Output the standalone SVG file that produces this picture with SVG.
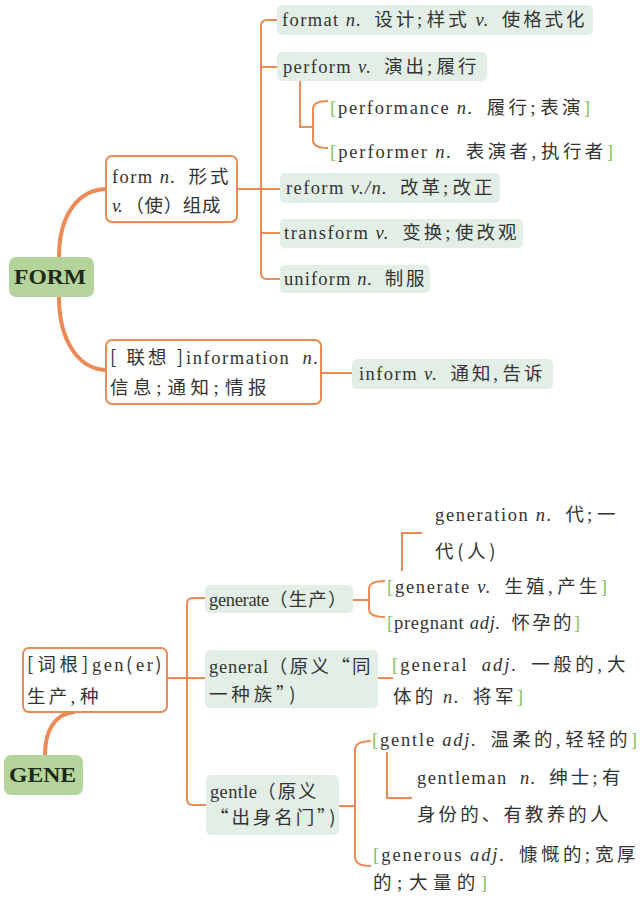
<svg xmlns="http://www.w3.org/2000/svg" width="640" height="903" viewBox="0 0 640 903">
<defs>
<style>
text{font-family:"Liberation Serif","Noto Sans CJK SC",serif;font-size:18.5px;fill:#333;}
.c{font-family:"Noto Sans CJK SC","Liberation Serif",sans-serif;font-size:18.5px;letter-spacing:1.5px;}
.p{font-family:"Liberation Serif",serif;font-size:19px;letter-spacing:3px;}
.i{font-style:italic;}
.b{fill:#86bf66;font-size:19px;}
.root{font-size:21px;font-weight:bold;fill:#1c2a17;}
.gbox{fill:#e3efe6;}
.wbox{fill:#fff;stroke:#ec8a55;stroke-width:2;}
.rbox{fill:#b4d49b;}
.ln{fill:none;stroke:#ec8a55;stroke-width:2;}
.thick{fill:none;stroke:#ec8a55;stroke-width:4;stroke-linecap:round;}
</style>
</defs>
<rect width="640" height="903" fill="#fff"/>

<g id="connectors">
<path class="ln" d="M277,20 H267 Q261,20 261,26 V273 Q261,279 267,279 H282"/>
<path class="ln" d="M261,67 H279"/>
<path class="ln" d="M237,189 H281"/>
<path class="ln" d="M261,233 H281"/>
<path class="ln" d="M300,81 V127 H313"/>
<path class="ln" d="M328,101 Q313,101 313,109 V140 Q313,148 328,148"/>
<path class="ln" d="M321,373 H352"/>
<path class="thick" d="M59,257 C59,215 78,190 106,189"/>
<path class="thick" d="M59,297 C59,340 78,369 106,370"/>
<path class="ln" d="M205,598 H193 Q187,598 187,604 V799 Q187,805 193,805 H206"/>
<path class="ln" d="M167,678 H205"/>
<path class="ln" d="M353,600 H369"/>
<path class="ln" d="M385,581 Q369,581 369,589 V609 Q369,617 385,617"/>
<path class="ln" d="M402,571 V533 H422"/>
<path class="ln" d="M377,678 H393"/>
<path class="ln" d="M339,806 H355"/>
<path class="ln" d="M371,741 Q355,741 355,750 V857 Q355,866 371,866"/>
<path class="ln" d="M387,752 V798 H412"/>
<path class="thick" d="M45,755 C45,730 55,714 74,712"/>
</g>

<g id="format">
<rect class="gbox" x="277" y="5" width="316" height="30" rx="5"/>
<text x="282" y="26" textLength="304" lengthAdjust="spacing">format <tspan class="i">n.</tspan>&#160; <tspan class="c">设计<tspan class="p">;</tspan>样式</tspan> <tspan class="i">v.</tspan>&#160; <tspan class="c">使格式化</tspan></text>
</g>
<g id="perform">
<rect class="gbox" x="277" y="52" width="210" height="29" rx="5"/>
<text x="283" y="73" textLength="195" lengthAdjust="spacing">perform <tspan class="i">v.</tspan>&#160; <tspan class="c">演出<tspan class="p">;</tspan>履行</tspan></text>
</g>
<g id="performance">
<text x="330" y="114" textLength="260" lengthAdjust="spacing"><tspan class="b">[</tspan>performance <tspan class="i">n.</tspan>&#160; <tspan class="c">履行<tspan class="p">;</tspan>表演</tspan><tspan class="b">]</tspan></text>
</g>
<g id="performer">
<text x="330" y="158" textLength="283" lengthAdjust="spacing"><tspan class="b">[</tspan>performer <tspan class="i">n.</tspan>&#160; <tspan class="c">表演者<tspan class="p">,</tspan>执行者</tspan><tspan class="b">]</tspan></text>
</g>
<g id="form">
<rect class="wbox" x="106" y="156" width="131" height="66" rx="6"/>
<text x="112" y="183" textLength="118" lengthAdjust="spacing">form <tspan class="i">n.</tspan>&#160; <tspan class="c">形式</tspan></text>
<text x="112" y="212" textLength="110" lengthAdjust="spacing"><tspan class="i">v.</tspan> <tspan class="c">（使）组成</tspan></text>
</g>
<g id="reform">
<rect class="gbox" x="280" y="173" width="220" height="30" rx="5"/>
<text x="286" y="194" textLength="208" lengthAdjust="spacing">reform <tspan class="i">v./n.</tspan>&#160; <tspan class="c">改革<tspan class="p">;</tspan>改正</tspan></text>
</g>
<g id="transform">
<rect class="gbox" x="280" y="219" width="243" height="29" rx="5"/>
<text x="284" y="239" textLength="234" lengthAdjust="spacing">transform <tspan class="i">v.</tspan>&#160; <tspan class="c">变换<tspan class="p">;</tspan>使改观</tspan></text>
</g>
<g id="uniform">
<rect class="gbox" x="280" y="265" width="150" height="28" rx="5"/>
<text x="284" y="285" textLength="142" lengthAdjust="spacing">uniform <tspan class="i">n.</tspan>&#160; <tspan class="c">制服</tspan></text>
</g>
<g id="FORM">
<rect class="rbox" x="9" y="257" width="85" height="40" rx="7"/>
<text class="root" x="14" y="284" textLength="72" lengthAdjust="spacingAndGlyphs">FORM</text>
</g>
<g id="information">
<rect class="wbox" x="106" y="340" width="215" height="64" rx="6"/>
<text x="110" y="364" textLength="208" lengthAdjust="spacing"><tspan class="c">[ 联想 ]</tspan>information&#160; <tspan class="i">n.</tspan></text>
<text x="110" y="394" textLength="158" lengthAdjust="spacing"><tspan class="c">信息<tspan class="p">;</tspan>通知<tspan class="p">;</tspan>情报</tspan></text>
</g>
<g id="inform">
<rect class="gbox" x="352" y="359" width="201" height="30" rx="5"/>
<text x="359" y="380" textLength="185" lengthAdjust="spacing">inform <tspan class="i">v.</tspan>&#160; <tspan class="c">通知<tspan class="p">,</tspan>告诉</tspan></text>
</g>

<g id="generation">
<text x="435" y="521" textLength="182" lengthAdjust="spacing">generation <tspan class="i">n.</tspan>&#160; <tspan class="c">代<tspan class="p">;</tspan>一</tspan></text>
<text x="435" y="558" textLength="62" lengthAdjust="spacing"><tspan class="c">代(人)</tspan></text>
</g>
<g id="generate-v">
<text x="387" y="593" textLength="220" lengthAdjust="spacing"><tspan class="b">[</tspan>generate <tspan class="i">v.</tspan>&#160; <tspan class="c">生殖<tspan class="p">,</tspan>产生</tspan><tspan class="b">]</tspan></text>
</g>
<g id="pregnant">
<text x="387" y="629" textLength="193" lengthAdjust="spacing"><tspan class="b">[</tspan>pregnant <tspan class="i">adj.</tspan>&#160; <tspan class="c">怀孕的</tspan><tspan class="b">]</tspan></text>
</g>
<g id="generate">
<rect class="gbox" x="205" y="585" width="148" height="28" rx="5"/>
<text x="209" y="606" textLength="139" lengthAdjust="spacing">generate<tspan class="c">（生产）</tspan></text>
</g>
<g id="general">
<rect class="gbox" x="205" y="650" width="173" height="58" rx="5"/>
<text x="209" y="673" textLength="163" lengthAdjust="spacing">general<tspan class="c">（原义“同</tspan></text>
<text x="209" y="701" textLength="88" lengthAdjust="spacing"><tspan class="c">一种族”)</tspan></text>
</g>
<g id="general-adj">
<text x="392" y="671" textLength="235" lengthAdjust="spacing"><tspan class="b">[</tspan>general&#160; <tspan class="i">adj.</tspan>&#160; <tspan class="c">一般的<tspan class="p">,</tspan>大</tspan></text>
<text x="393" y="703" textLength="130" lengthAdjust="spacing"><tspan class="c">体的</tspan> <tspan class="i">n.</tspan>&#160; <tspan class="c">将军</tspan><tspan class="b">]</tspan></text>
</g>
<g id="root-gen">
<rect class="wbox" x="23" y="648" width="144" height="64" rx="6"/>
<text x="27" y="671" textLength="136" lengthAdjust="spacing"><tspan class="c">[词根]</tspan>gen<tspan class="c">(</tspan>er<tspan class="c">)</tspan></text>
<text x="27" y="703" textLength="73" lengthAdjust="spacing"><tspan class="c">生产<tspan class="p">,</tspan>种</tspan></text>
</g>
<g id="GENE">
<rect class="rbox" x="4" y="755" width="79" height="40" rx="7"/>
<text class="root" x="9" y="782" textLength="67" lengthAdjust="spacingAndGlyphs">GENE</text>
</g>
<g id="gentle">
<rect class="gbox" x="206" y="775" width="133" height="60" rx="5"/>
<text x="210" y="798" textLength="108" lengthAdjust="spacing">gentle<tspan class="c">（原义</tspan></text>
<text x="210" y="824" textLength="127" lengthAdjust="spacing"><tspan class="c">“出身名门”)</tspan></text>
</g>
<g id="gentle-adj">
<text x="372" y="746" textLength="265" lengthAdjust="spacing"><tspan class="b">[</tspan>gentle <tspan class="i">adj.</tspan>&#160; <tspan class="c">温柔的<tspan class="p">,</tspan>轻轻的</tspan><tspan class="b">]</tspan></text>
</g>
<g id="gentleman">
<text x="417" y="784" textLength="205" lengthAdjust="spacing">gentleman&#160; <tspan class="i">n.</tspan>&#160; <tspan class="c">绅士<tspan class="p">;</tspan>有</tspan></text>
<text x="417" y="821" textLength="193" lengthAdjust="spacing"><tspan class="c">身份的、有教养的人</tspan></text>
</g>
<g id="generous">
<text x="373" y="861" textLength="264" lengthAdjust="spacing"><tspan class="b">[</tspan>generous <tspan class="i">adj.</tspan>&#160; <tspan class="c">慷慨的<tspan class="p">;</tspan>宽厚</tspan></text>
<text x="373" y="889" textLength="114" lengthAdjust="spacing"><tspan class="c">的<tspan class="p">;</tspan>大量的</tspan><tspan class="b">]</tspan></text>
</g>
</svg>
